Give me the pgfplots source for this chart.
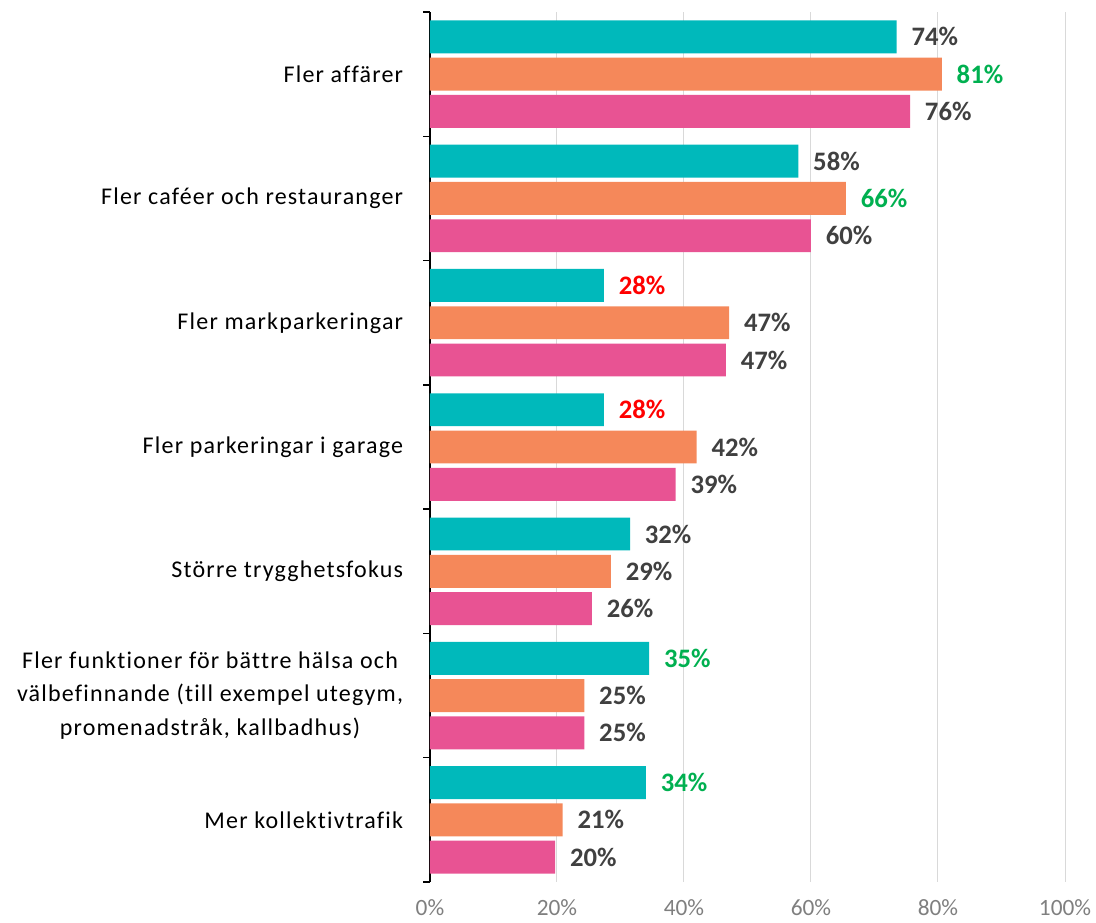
\documentclass[border=0pt]{standalone}
\usepackage{pgfplots}
\pgfplotsset{compat=1.18}
\usepackage{fontspec}
\setmainfont{Carlito}
\newfontfamily\catfont[LetterSpace=5,Ligatures=NoCommon]{Carlito}
\definecolor{cteal}{HTML}{00B9BB}
\definecolor{corange}{HTML}{F5885A}
\definecolor{cpink}{HTML}{E85393}
\definecolor{cgreen}{HTML}{00B050}
\definecolor{cred}{HTML}{FF0000}
\definecolor{labgray}{HTML}{404040}
\definecolor{tickgray}{HTML}{7F7F7F}
\definecolor{gridgray}{HTML}{D9D9D9}
\begin{document}
\begin{tikzpicture}
\useasboundingbox (-322.5pt,-30pt) rectangle (499.5pt,661.5pt);
\begin{axis}[
  scale only axis, width=476.25pt, height=652.5pt,
  xmin=0, xmax=100, ymin=-0.5, ymax=6.5, y dir=reverse,
  xbar, bar width=0.265,
  axis lines*=left,
  x axis line style={draw=none},
  y axis line style={black, line width=1pt},
  xtick={0,20,...,100},
  xticklabels={0\%,20\%,40\%,60\%,80\%,100\%},
  ytick={0,...,6},
  yticklabels={Fler affärer, Fler caféer och restauranger, Fler markparkeringar, Fler parkeringar i garage, Större trygghetsfokus, {Fler funktioner för bättre hälsa och\\välbefinnande (till exempel utegym,\\promenadstråk, kallbadhus)}, Mer kollektivtrafik},
  minor ytick={-0.5,0.5,...,6.5},
  major tick length=0pt, minor tick length=5pt, tick align=outside,
  minor tick style={black, line width=1pt},
  xmajorgrids, grid style={draw=gridgray, line width=0.75pt},
  xticklabel style={text=tickgray, font=\fontsize{17.5}{20}\selectfont, yshift=-10pt},
  yticklabel style={align=center, font=\catfont\fontsize{18}{25}\selectfont, inner sep=0pt, xshift=-20pt, text=black},
  point meta=explicit symbolic,
  nodes near coords,
  nodes near coords style={font=\fontsize{20}{24}\selectfont\bfseries, text=labgray, anchor=west, inner sep=0pt, xshift=11pt},
  every axis plot/.append style={draw=none},
]
\addplot[fill=cteal, bar shift=-0.3] coordinates {
  (73.5,0) [74\%]
  (58.0,1) [58\%]
  (27.4,2) [\textcolor{cred}{28\%}]
  (27.4,3) [\textcolor{cred}{28\%}]
  (31.5,4) [32\%]
  (34.5,5) [\textcolor{cgreen}{35\%}]
  (34.0,6) [\textcolor{cgreen}{34\%}]
};
\addplot[fill=corange, bar shift=0] coordinates {
  (80.6,0) [\textcolor{cgreen}{81\%}]
  (65.5,1) [\textcolor{cgreen}{66\%}]
  (47.1,2) [47\%]
  (42.0,3) [42\%]
  (28.5,4) [29\%]
  (24.3,5) [25\%]
  (20.9,6) [21\%]
};
\addplot[fill=cpink, bar shift=0.3] coordinates {
  (75.6,0) [76\%]
  (60.0,1) [60\%]
  (46.6,2) [47\%]
  (38.7,3) [39\%]
  (25.5,4) [26\%]
  (24.3,5) [25\%]
  (19.7,6) [20\%]
};
\end{axis}
\end{tikzpicture}
\end{document}
